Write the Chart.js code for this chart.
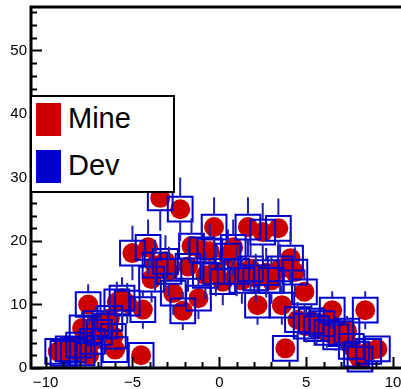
<!DOCTYPE html>
<html>
<head>
<meta charset="utf-8">
<script src="https://cdn.jsdelivr.net/npm/chart.js@4"></script>
<style>
  body { margin: 0; background: #fff; }
  #wrap { position: relative; width: 401px; height: 389px; }
  #legend {
    position: absolute; left: 30px; top: 95px; width: 141px; height: 94px;
    background: #fff; border: 2px solid #000;
    font-family: 'Liberation Sans', Arial, sans-serif; font-size: 29px; color: #000;
  }
  .entry { position: absolute; left: 36px; }
  .swatch { position: absolute; left: 4px; width: 25px; height: 33px; }
</style>
</head>
<body>
<div id="wrap">
  <canvas id="chart" width="401" height="389"></canvas>
  <div id="legend">
    <div class="swatch" style="top:6px;background:#cc0000"></div>
    <div class="entry" style="top:5px">Mine</div>
    <div class="swatch" style="top:53px;background:#0000cc"></div>
    <div class="entry" style="top:52px">Dev</div>
  </div>
</div>
<script>
// Point positions (shared by both graphs)
const xValues = [-9.3, -9.0, -8.7, -8.4, -8.1, -7.9, -7.5, -7.3, -7.9, -7.55,
  -7.1, -6.9, -6.6, -6.3, -6.1, -6.0, -5.9, -5.6, -5.3, -4.5,
  -4.4, -5.0, -4.1, -3.9, -3.7, -3.4, -3.1, -2.9, -2.65, -2.25,
  -2.1, -1.8, -1.6, -1.2, -1.0, -0.8, -0.55, -0.3, -0.2, 0.2,
  0.5, 0.8, 1.0, 1.3, 1.65, 1.8, 2.1, 2.2, 2.5, 2.7,
  3.0, 3.4, 3.5, 3.6, 3.8, 4.1, 4.35, 4.5, 4.9, 5.0,
  5.3, 5.6, 5.9, 6.2, 6.5, 6.7, 7.0, 7.35, 7.6, 7.9,
  8.1, 8.4, 8.6, 9.1];
const yValues = [2.6, 2.3, 3.0, 2.8, 3.6, 2.4, 2.0, 4.2, 6.3, 10.0,
  7.0, 5.6, 6.6, 7.8, 5.0, 2.9, 10.4, 11.0, 10.2, 2.0,
  9.2, 18.1, 19.0, 14.0, 16.2, 26.8, 16.8, 15.2, 11.8, 25.0,
  9.0, 16.0, 19.2, 11.0, 18.6, 14.6, 18.4, 22.2, 15.2, 13.6,
  17.6, 19.0, 15.2, 13.8, 22.2, 15.6, 14.2, 9.9, 21.4, 15.0,
  13.8, 22.0, 15.6, 9.9, 3.1, 17.3, 15.1, 7.6, 12.0, 6.6,
  7.4, 6.2, 7.0, 5.6, 9.1, 4.9, 5.4, 5.8, 3.4, 2.2,
  1.4, 9.1, 2.6, 3.0];
const yErrors = [1.6, 1.5, 1.7, 1.7, 1.9, 1.5, 1.4, 2.0, 2.5, 3.2,
  2.6, 2.4, 2.6, 2.8, 2.2, 1.7, 3.2, 3.3, 3.2, 1.4,
  3.0, 4.3, 4.4, 3.7, 4.0, 5.2, 4.1, 3.9, 3.4, 5.0,
  3.0, 4.0, 4.4, 3.3, 4.3, 3.8, 4.3, 4.7, 3.9, 3.7,
  4.2, 4.4, 3.9, 3.7, 4.7, 3.9, 3.8, 3.1, 4.6, 3.9,
  3.7, 4.7, 3.9, 3.1, 1.8, 4.2, 3.9, 2.8, 3.5, 2.6,
  2.7, 2.5, 2.6, 2.4, 3.0, 2.2, 2.3, 2.4, 1.8, 1.5,
  1.2, 3.0, 1.6, 1.7];

const xTickValues = [-10, -9, -8, -7, -6, -5, -4, -3, -2, -1, 0, 1, 2, 3, 4, 5, 6, 7, 8, 9, 10];
const yTickValues = [0, 2, 4, 6, 8, 10, 12, 14, 16, 18, 20, 22, 24, 26, 28, 30, 32, 34, 36, 38, 40, 42, 44, 46, 48, 50, 52, 54, 56];

const points = xValues.map((x, i) => ({ x: x, y: yValues[i] }));

// ROOT style frame: axes with inward ticks, error bars on Dev
const framePlugin = {
  id: 'frame',
  afterDatasetsDraw(chart) {
    const ctx = chart.ctx;
    const xs = chart.scales.x, ys = chart.scales.y;
    ctx.save();
    ctx.strokeStyle = '#2020b0';
    ctx.lineWidth = 2;
    const half = 12;
    points.forEach((p, i) => {
      const px = xs.getPixelForValue(p.x);
      const py = ys.getPixelForValue(p.y);
      const top = ys.getPixelForValue(p.y + yErrors[i]);
      const bot = ys.getPixelForValue(p.y - yErrors[i]);
      ctx.beginPath();
      if (py - top > half) { ctx.moveTo(px, py - half); ctx.lineTo(px, top); }
      if (bot - py > half) { ctx.moveTo(px, py + half); ctx.lineTo(px, bot); }
      ctx.stroke();
    });
    ctx.restore();
  },
  afterDraw(chart) {
    const ctx = chart.ctx;
    const a = chart.chartArea;
    const xs = chart.scales.x, ys = chart.scales.y;
    ctx.save();
    ctx.strokeStyle = '#000';
    ctx.lineWidth = 2;
    ctx.beginPath();
    xTickValues.forEach(v => {
      const px = Math.round(xs.getPixelForValue(v)) + 0.5;
      const len = v % 5 === 0 ? 11 : 6;
      ctx.moveTo(px, a.bottom);
      ctx.lineTo(px, a.bottom - len);
    });
    yTickValues.forEach(v => {
      const py = Math.round(ys.getPixelForValue(v)) + 0.5;
      const len = v % 10 === 0 ? 11 : 6;
      ctx.moveTo(a.left, py);
      ctx.lineTo(a.left + len, py);
    });
    ctx.stroke();
    ctx.lineWidth = 3;
    ctx.beginPath();
    ctx.moveTo(a.right + 2, a.top);
    ctx.lineTo(a.left, a.top);
    ctx.lineTo(a.left, a.bottom);
    ctx.lineTo(a.right + 2, a.bottom);
    ctx.stroke();
    ctx.restore();
  }
};

const tickFont = { family: "'Liberation Sans', Arial, sans-serif", size: 15 };

new Chart(document.getElementById('chart'), {
  type: 'scatter',
  data: {
    datasets: [
      {
        label: 'Mine',
        data: points,
        pointStyle: 'circle',
        pointRadius: 10,
        pointHoverRadius: 10,
        backgroundColor: '#cc0000',
        borderColor: '#cc0000',
        borderWidth: 0,
        clip: false,
        order: 1,
      },
      {
        label: 'Dev',
        data: points,
        pointStyle: 'rect',
        pointRadius: 17.5,
        pointHoverRadius: 17.5,
        backgroundColor: 'rgba(0,0,0,0)',
        borderColor: '#0000cc',
        borderWidth: 2,
        clip: false,
        order: 0,
      },
    ],
  },
  options: {
    responsive: false,
    animation: false,
    devicePixelRatio: 1,
    layout: { autoPadding: false, padding: { left: 0, right: 0, top: 7, bottom: 0 } },
    plugins: { legend: { display: false }, tooltip: { enabled: false } },
    scales: {
      x: {
        type: 'linear',
        min: -10.84,
        max: 10.46,
        grid: { display: false, drawTicks: false },
        border: { display: false },
        afterBuildTicks: (scale) => { scale.ticks = xTickValues.map(v => ({ value: v })); },
        afterFit: (scale) => {
          scale.height = 21;
          scale.paddingLeft = 0;
          scale.paddingRight = 0;
        },
        ticks: {
          autoSkip: false,
          maxRotation: 0,
          padding: 6,
          color: '#000',
          font: tickFont,
          callback: (v) => (v % 5 === 0 ? String(v).replace('-', '\u2212') : ''),
        },
      },
      y: {
        type: 'linear',
        min: 0,
        max: 56.85,
        grid: { display: false, drawTicks: false },
        border: { display: false },
        afterBuildTicks: (scale) => { scale.ticks = yTickValues.map(v => ({ value: v })); },
        afterFit: (scale) => {
          scale.width = 31;
          scale.paddingTop = 0;
          scale.paddingBottom = 0;
        },
        ticks: {
          autoSkip: false,
          padding: 4,
          color: '#000',
          font: tickFont,
          callback: (v) => (v % 10 === 0 ? String(v) : ''),
        },
      },
    },
  },
  plugins: [framePlugin],
});
</script>
</body>
</html>
